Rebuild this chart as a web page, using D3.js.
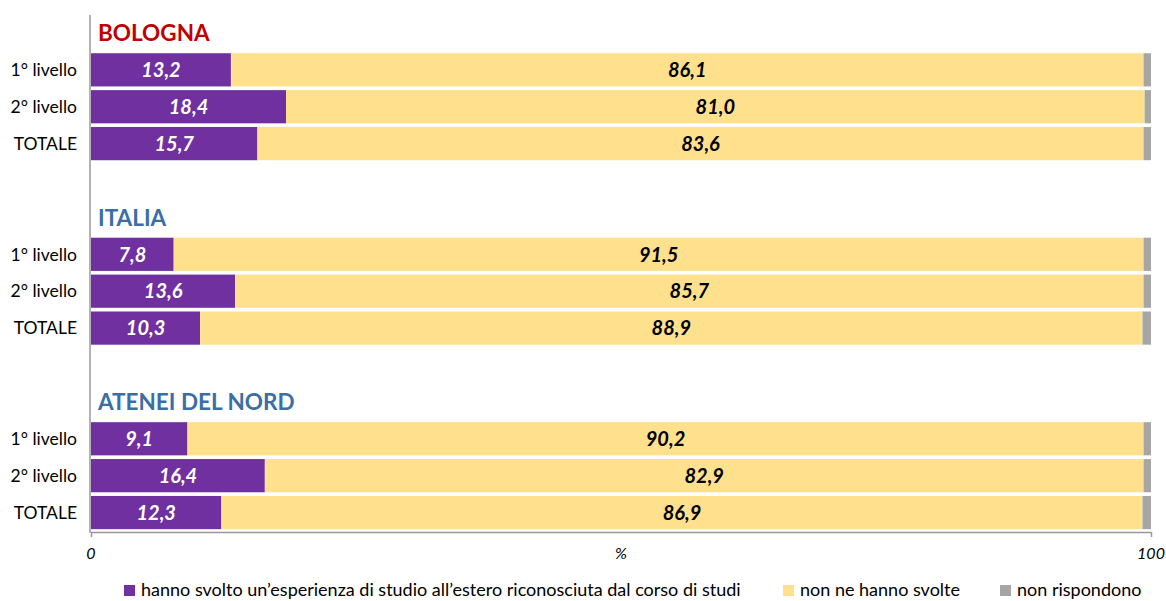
<!DOCTYPE html>
<html>
<head>
<meta charset="utf-8">
<script src="https://cdn.jsdelivr.net/npm/d3@7"></script>
<style>
  body { margin: 0; background: #fff; }
  svg { font-family: Lato, "Open Sans", sans-serif; }
</style>
</head>
<body>
<script>
var groups = ["BOLOGNA", "ITALIA", "ATENEI DEL NORD"];
var groupColors = ["#C00000", "#3A6EA5", "#3A6EA5"];
var levels = ["1° livello", "2° livello", "TOTALE"];
var estero = [[13.2, 18.4, 15.7], [7.8, 13.6, 10.3], [9.1, 16.4, 12.3]];
var nonSvolte = [[86.1, 81.0, 83.6], [91.5, 85.7, 88.9], [90.2, 82.9, 86.9]];
var seriesNames = [
  "hanno svolto un\u2019esperienza di studio all\u2019estero riconosciuta dal corso di studi",
  "non ne hanno svolte",
  "non rispondono"
];
var colors = ["#7030A0", "#FFE08C", "#A6A6A6"];
var tickLabels = [{ v: 0, t: "0" }, { v: 50, t: "%" }, { v: 100, t: "100" }];

var width = 1166, height = 601;

var svg = d3.select("body").append("svg")
  .attr("width", width)
  .attr("height", height);

// build row list: title, 3 levels, spacer
var rows = [];
groups.forEach(function (g, gi) {
  rows.push({ key: "t" + gi, type: "title", group: g, gi: gi });
  levels.forEach(function (l, li) {
    var a = estero[gi][li], b = nonSvolte[gi][li];
    rows.push({ key: "r" + gi + li, type: "bar", label: l, values: [a, b, +(100 - a - b).toFixed(1)] });
  });
  if (gi < groups.length - 1) rows.push({ key: "s" + gi, type: "spacer" });
});

var x = d3.scaleLinear().domain([0, 100]).range([91, 1151]);
var y = d3.scaleBand()
  .domain(rows.map(function (d) { return d.key; }))
  .range([14.5, 531])
  .paddingInner(0.1)
  .paddingOuter(0.05);

// bars
var barRows = rows.filter(function (d) { return d.type === "bar"; });
barRows.forEach(function (r) {
  var g = svg.append("g");
  var stack = 0;
  r.values.forEach(function (v, i) {
    g.append("rect")
      .attr("x", x(stack))
      .attr("y", y(r.key))
      .attr("width", x(stack + v) - x(stack))
      .attr("height", y.bandwidth())
      .attr("fill", colors[i]);
    if (i < 2) {
      g.append("text")
        .attr("x", (x(stack) + x(stack + v)) / 2)
        .attr("y", y(r.key) + y.bandwidth() / 2)
        .attr("dy", "0.36em")
        .attr("text-anchor", "middle")
        .attr("font-size", 20)
        .attr("font-weight", "bold")
        .attr("font-style", "italic")
        .attr("fill", i === 0 ? "#fff" : "#000")
        .text(d3.format(".1f")(v).replace(".", ","));
    }
    stack += v;
  });
  svg.append("text")
    .attr("x", 77)
    .attr("y", y(r.key) + y.bandwidth() / 2)
    .attr("dy", "0.36em")
    .attr("text-anchor", "end")
    .attr("font-size", 17.5)
    .attr("fill", "#000")
    .text(r.label);
});

// group titles
rows.filter(function (d) { return d.type === "title"; }).forEach(function (r) {
  svg.append("text")
    .attr("x", 98)
    .attr("y", y(r.key) + y.bandwidth() / 2)
    .attr("dy", "0.36em")
    .attr("font-size", 22.5)
    .attr("font-weight", "bold")
    .attr("fill", groupColors[r.gi])
    .text(r.group);
});

// axes
svg.append("line")
  .attr("x1", 90).attr("x2", 90)
  .attr("y1", 15).attr("y2", 533)
  .attr("stroke", "#999").attr("stroke-width", 1.5);

var xAxis = d3.axisBottom(x)
  .tickValues([0, 100])
  .tickSize(5)
  .tickFormat("");
var ax = svg.append("g")
  .attr("transform", "translate(0,532)")
  .call(xAxis);
ax.select(".domain").attr("stroke", "#999").attr("stroke-width", 1.5);
ax.selectAll(".tick line").attr("stroke", "#999");

svg.selectAll(".ticklab")
  .data(tickLabels)
  .enter().append("text")
  .attr("class", "ticklab")
  .attr("x", function (d) { return x(d.v); })
  .attr("y", 559)
  .attr("text-anchor", "middle")
  .attr("font-size", 16)
  .attr("font-style", "italic")
  .attr("fill", "#000")
  .text(function (d) { return d.t; });

// legend (kept just inside the bottom edge)
var legendX = [141, 800, 1017];
seriesNames.forEach(function (n, i) {
  svg.append("rect")
    .attr("x", legendX[i] - 17).attr("y", 585)
    .attr("width", 11).attr("height", 11)
    .attr("fill", colors[i]);
  svg.append("text")
    .attr("x", legendX[i]).attr("y", 590)
    .attr("dy", "0.36em")
    .attr("font-size", 18)
    .attr("fill", "#000")
    .text(n);
});
</script>
</body>
</html>
